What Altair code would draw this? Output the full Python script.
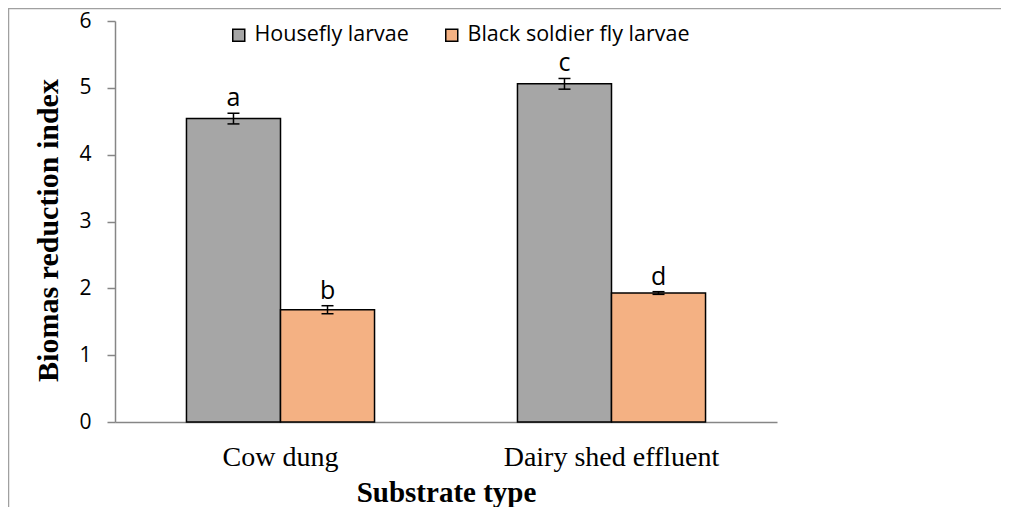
import altair as alt
import pandas as pd

# ---- data ----
substrates = ["Cow dung", "Cow dung", "Dairy shed effluent", "Dairy shed effluent"]
larvae = ["Housefly larvae", "Black soldier fly larvae", "Housefly larvae", "Black soldier fly larvae"]
means = [4.54, 1.68, 5.06, 1.93]
errors = [0.08, 0.06, 0.08, 0.02]
letters = ["a", "b", "c", "d"]

larvae_order = ["Housefly larvae", "Black soldier fly larvae"]
substrate_order = ["Cow dung", "Dairy shed effluent"]
bar_colors = ["#a6a6a6", "#f4b183"]
y_ticks = [0, 1, 2, 3, 4, 5, 6]

df = pd.DataFrame({
    "substrate": substrates,
    "larvae": larvae,
    "mean": means,
    "err": errors,
    "letter": letters,
})

W, H = 662, 401
SERIF = "Liberation Serif"
SANS = "Open Sans"

base = alt.Chart(df).transform_calculate(
    lo="datum.mean - datum.err",
    hi="datum.mean + datum.err",
)

x_enc = alt.X(
    "substrate:N",
    sort=substrate_order,
    scale=alt.Scale(paddingInner=0, paddingOuter=0),
    axis=alt.Axis(
        title="Substrate type",
        titleFont=SERIF, titleFontSize=29, titleFontWeight="bold", titleColor="black",
        titleX=331, titleY=79, titleBaseline="alphabetic", titleAlign="center",
        labelFont=SERIF, labelFontSize=28, labelColor="black",
        labelAngle=0, labelBaseline="alphabetic", labelPadding=43, labelLimit=400,
        ticks=False, tickSize=0,
        domainColor="#868686", domainWidth=1.5,
    ),
)
xoff_enc = alt.XOffset(
    "larvae:N", sort=larvae_order,
    scale=alt.Scale(paddingInner=0, paddingOuter=0.76),
)

y_scale = alt.Scale(domain=[0, 6], nice=False)

bars = base.mark_bar(stroke="black", strokeWidth=1.5).encode(
    x=x_enc,
    xOffset=xoff_enc,
    y=alt.Y(
        "mean:Q",
        scale=y_scale,
        axis=alt.Axis(
            values=y_ticks, grid=False, format="d",
            title="Biomas reduction index",
            titleFont=SERIF, titleFontSize=30, titleFontWeight="bold", titleColor="black",
            titleAngle=270, titleX=-58, titleY=209, titleAlign="center",
            titleBaseline="alphabetic",
            labelFont=SANS, labelFontSize=21, labelColor="black",
            labelPadding=16, tickSize=8, tickColor="#868686", tickWidth=1.5,
            domainColor="#868686", domainWidth=1.5,
        ),
    ),
    color=alt.Color(
        "larvae:N",
        sort=larvae_order,
        scale=alt.Scale(domain=larvae_order, range=bar_colors),
        legend=alt.Legend(
            title=None, orient="none", direction="horizontal",
            legendX=113, legendY=3,
            symbolType="square", symbolSize=144,
            symbolStrokeColor="black", symbolStrokeWidth=1.5, symbolOpacity=1,
            labelFont=SANS, labelFontSize=21.5, labelColor="black",
            labelOffset=5, labelLimit=400, columnPadding=32, padding=0,
        ),
    ),
)

err_rule = base.mark_rule(color="black", strokeWidth=1.5).encode(
    x=alt.X("substrate:N", sort=substrate_order),
    xOffset=xoff_enc,
    y=alt.Y("lo:Q", scale=y_scale),
    y2="hi:Q",
)
cap_lo = base.mark_tick(color="black", size=12, thickness=1.5, opacity=1).encode(
    x=alt.X("substrate:N", sort=substrate_order),
    xOffset=xoff_enc,
    y=alt.Y("lo:Q", scale=y_scale),
)
cap_hi = base.mark_tick(color="black", size=12, thickness=1.5, opacity=1).encode(
    x=alt.X("substrate:N", sort=substrate_order),
    xOffset=xoff_enc,
    y=alt.Y("hi:Q", scale=y_scale),
)
labels = base.mark_text(
    font=SANS, fontSize=25, color="black", baseline="alphabetic", dy=-7
).encode(
    x=alt.X("substrate:N", sort=substrate_order),
    xOffset=xoff_enc,
    y=alt.Y("hi:Q", scale=y_scale),
    text="letter:N",
)

# outer chart border (top and left edges visible in the reference)
border_top = alt.Chart(pd.DataFrame({"k": [0]})).mark_rule(color="#a0a0a0", strokeWidth=1.5).encode(
    x=alt.value(-107), x2=alt.value(886), y=alt.value(-12.5)
)
border_left = alt.Chart(pd.DataFrame({"k": [0]})).mark_rule(color="#a0a0a0", strokeWidth=1.5).encode(
    x=alt.value(-106.5), y=alt.value(-13), y2=alt.value(486)
)

chart = alt.layer(bars, err_rule, cap_lo, cap_hi, labels, border_top, border_left).properties(
    width=W, height=H,
    autosize=alt.AutoSizeParams(type="none"),
    padding={"left": 107, "top": 13, "right": 224, "bottom": 85},
    background="white",
).configure_view(stroke=None)

chart.save("out.html", embed_options={"renderer": "svg", "actions": False})
